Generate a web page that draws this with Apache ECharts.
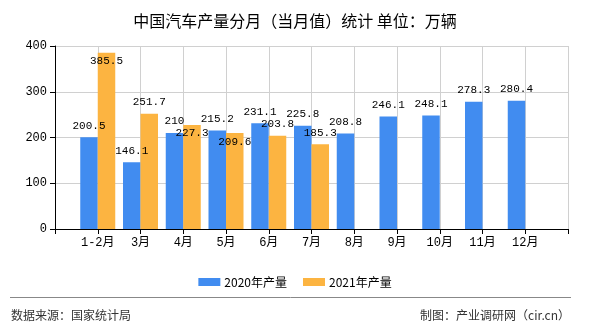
<!DOCTYPE html>
<html>
<head>
<meta charset="utf-8">
<script src="https://cdn.jsdelivr.net/npm/echarts@6/dist/echarts.min.js"></script>
<style>
html,body{margin:0;padding:0;background:#fff;}
#chart{width:590px;height:330px;}
</style>
</head>
<body>
<div id="chart"></div>
<script>
// ---- data ----
const titleText = '中国汽车产量分月（当月值）统计 单位：万辆';
const months = ['1-2月','3月','4月','5月','6月','7月','8月','9月','10月','11月','12月'];
const seriesNames = ['2020年产量','2021年产量'];
const values2020 = [200.5, 146.1, 210, 215.2, 231.1, 225.8, 208.8, 246.1, 248.1, 278.3, 280.4];
const values2021 = [385.5, 251.7, 227.3, 209.6, 203.8, 185.3];
const yTicks = [0, 100, 200, 300, 400];
const sourceText = '数据来源：国家统计局';
const creditText = '制图：产业调研网（cir.cn）';

// ---- build (axis padded with an empty slot at each end so labels sit on ticks) ----
const cats = [''].concat(months, ['']);
function pad(arr){
  const out = [null];
  for (let i = 0; i < months.length; i++) out.push(i < arr.length ? arr[i] : null);
  out.push(null);
  return out;
}
const insideLabelIdx = [0, 2, 3]; // orange labels drawn inside the bar top
const monoFont = '"Liberation Mono", "Noto Sans CJK SC", monospace';
const cjkFont = '"Noto Sans CJK SC", sans-serif';

const d2021 = pad(values2021).map((v, i) => {
  if (v === null) return null;
  if (insideLabelIdx.indexOf(i - 1) >= 0) {
    return { value: v, label: { position: 'insideTop', distance: 3 } };
  }
  return v;
});

const chart = echarts.init(document.getElementById('chart'), null, {renderer: 'canvas'});
chart.setOption({
  backgroundColor: '#fff',
  animation: false,
  title: {
    text: titleText,
    left: 'center',
    top: 8,
    textStyle: { fontSize: 16, fontWeight: 'normal', color: '#000', fontFamily: cjkFont }
  },
  legend: {
    data: seriesNames,
    left: 'center',
    top: 271,
    itemWidth: 22,
    itemHeight: 8,
    itemGap: 16,
    icon: 'rect',
    textStyle: { fontSize: 12, color: '#000', fontFamily: cjkFont, padding: [0, 0, 0, -1] }
  },
  grid: { left: 55, right: 22, top: 46, bottom: 101, containLabel: false },
  xAxis: {
    type: 'category',
    data: cats,
    boundaryGap: false,
    axisLine: { lineStyle: { color: '#000', width: 1 } },
    axisTick: { show: true, length: 5, interval: 0, lineStyle: { color: '#000' } },
    axisLabel: { interval: 0, color: '#000', fontSize: 12, fontFamily: monoFont, margin: 8 },
    splitLine: { show: true, interval: 0, lineStyle: { color: '#d0d0d0', width: 1 } }
  },
  yAxis: {
    type: 'value',
    min: yTicks[0],
    max: yTicks[yTicks.length - 1],
    interval: 100,
    axisLine: { show: true, lineStyle: { color: '#000', width: 1 } },
    axisTick: { show: true, length: 5, lineStyle: { color: '#000' } },
    axisLabel: { color: '#000', fontSize: 12, fontFamily: monoFont, margin: 8 },
    splitLine: { show: true, lineStyle: { color: '#d0d0d0', width: 1 } }
  },
  series: [
    {
      name: seriesNames[0],
      type: 'bar',
      data: pad(values2020),
      barWidth: 17.5,
      barGap: '0%',
      itemStyle: { color: '#418cf0' },
      label: { show: true, position: 'top', distance: 6, color: '#000', fontSize: 11, fontFamily: monoFont }
    },
    {
      name: seriesNames[1],
      type: 'bar',
      data: d2021,
      barWidth: 17.5,
      barGap: '0%',
      itemStyle: { color: '#fcb441' },
      label: { show: true, position: 'top', distance: 6, color: '#000', fontSize: 11, fontFamily: monoFont }
    }
  ],
  graphic: [
    { type: 'line', shape: { x1: 10, y1: 297.5, x2: 571, y2: 297.5 }, style: { stroke: '#888', lineWidth: 1 } },
    { type: 'text', left: 11, top: 309, style: { text: sourceText, fill: '#333', fontSize: 12, fontFamily: cjkFont } },
    { type: 'text', right: 20, top: 309, style: { text: creditText, fill: '#333', fontSize: 12, fontFamily: cjkFont } }
  ]
});
</script>
</body>
</html>
